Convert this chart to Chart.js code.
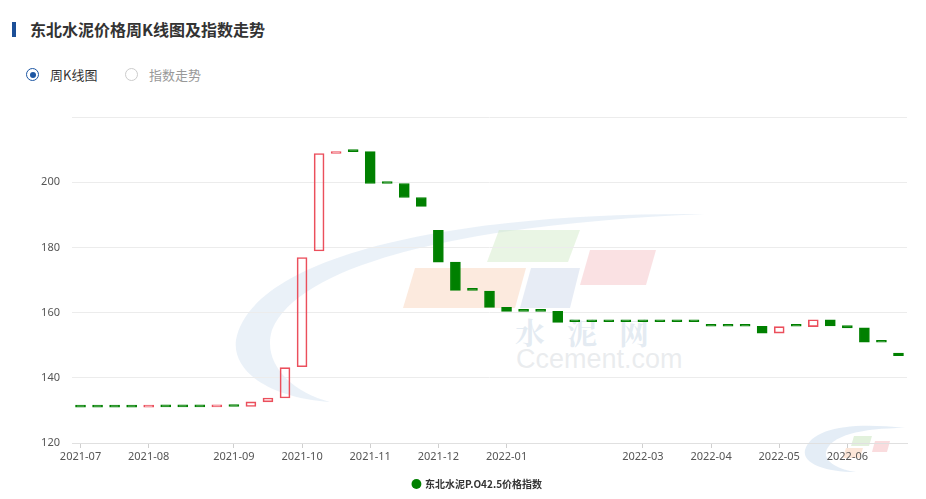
<!DOCTYPE html>
<html>
<head>
<meta charset="utf-8">
<script src="https://cdn.jsdelivr.net/npm/chart.js@4/dist/chart.umd.min.js"></script>
<style>
  html, body { margin: 0; padding: 0; background: #fff; }
  body { width: 926px; height: 499px; position: relative; overflow: hidden;
         font-family: "Noto Sans CJK SC", "Noto Sans", sans-serif; }
  .bar { position: absolute; left: 12px; top: 22px; width: 4px; height: 15px; background: #1c4f97; }
  .title { position: absolute; left: 30px; top: 17px; font-size: 16px; font-weight: bold; color: #333; line-height: 24px; }
  .radio { position: absolute; top: 66px; font-size: 13px; line-height: 17px; }
  .radio .c { position: absolute; left: 0; top: 2px; width: 11px; height: 11px; border-radius: 50%; border: 1px solid #ccc; background: #fff; }
  .radio .c.on { border-color: #1c56a3; }
  .radio .c.on::after { content: ""; position: absolute; left: 2.5px; top: 2.5px; width: 6px; height: 6px; border-radius: 50%; background: #1c56a3; }
  .radio span.t { position: absolute; left: 24px; top: 0; white-space: nowrap; }
  .wm { position: absolute; left: 0; top: 0; }
  #wrap { position: absolute; left: 0; top: 0; width: 926px; height: 499px; }
</style>
</head>
<body>
<div class="bar"></div>
<div class="title">东北水泥价格周K线图及指数走势</div>
<div class="radio" style="left:26px"><div class="c on"></div><span class="t" style="color:#333">周K线图</span></div>
<div class="radio" style="left:125px"><div class="c"></div><span class="t" style="color:#999">指数走势</span></div>

<svg class="wm" width="926" height="499">
  <path d="M 236 340 C 250 262, 430 212, 705 214 C 470 224, 300 262, 272 330 C 262 362, 290 392, 330 402 C 270 398, 232 372, 236 340 Z" fill="rgba(196,214,236,0.35)"/>
  <polygon points="499,230 580,230 568,262 487,262" fill="rgba(206,232,196,0.45)"/>
  <polygon points="415,268 526,268 515,308 403,308" fill="rgba(250,214,190,0.5)"/>
  <polygon points="531,268 580,268 570,308 520,308" fill="rgba(208,218,236,0.5)"/>
  <polygon points="590,250 656,250 646,285 580,285" fill="rgba(246,196,200,0.5)"/>
  <text x="515" y="344" font-size="30" font-weight="bold" font-family="Noto Serif CJK SC, serif" fill="rgba(205,218,232,0.55)" letter-spacing="22">水泥网</text>
  <text x="516" y="368" font-size="27" font-family="Liberation Sans, sans-serif" fill="rgba(220,224,228,0.6)">Ccement.com</text>
  <path d="M 805 450 C 812 428, 850 422, 905 428 C 860 428, 830 436, 826 452 C 824 462, 840 470, 856 472 C 826 472, 802 464, 805 450 Z" fill="rgba(196,214,236,0.45)"/>
  <polygon points="854,436 872,436 869,446 851,446" fill="rgba(206,232,196,0.6)"/>
  <polygon points="846,448 863,448 860,458 843,458" fill="rgba(250,214,190,0.6)"/>
  <polygon points="875,441 890,441 887,452 872,452" fill="rgba(246,196,200,0.6)"/>
</svg>

<div id="wrap"><canvas id="c" width="926" height="499"></canvas></div>

<script>
// Week category tick labels (label only at first week of a month)
const weekLabels = [
  '2021-07','','','',
  '2021-08','','','','',
  '2021-09','','','',
  '2021-10','','','',
  '2021-11','','','',
  '2021-12','','','',
  '2022-01','','','','','','','',
  '2022-03','','','',
  '2022-04','','','',
  '2022-05','','','',
  '2022-06','','',''
];

// Weekly open values
const openValues = [
  131, 131, 131, 131, 131, 131.2, 131.1, 131.1, 131.1, 131.3,
  131.2, 132.6, 133.8, 143.4, 178.9, 208.8, 209.4, 209.4, 199.6, 199.6,
  195.3, 185.2, 175.5, 166.8, 166.6, 161.6, 160.4, 160.4, 160.4, 157.2,
  157.2, 157.2, 157.2, 157.2, 157.2, 157.2, 157.2, 155.8, 155.8, 155.8,
  155.8, 153.7, 155.8, 155.7, 157.8, 156.0, 155.3, 150.9, 147.6
];

// Weekly close values
const closeValues = [
  131, 131, 131, 131, 131.2, 131.1, 131.1, 131.1, 131.3, 131.2,
  132.6, 133.8, 143.1, 176.9, 208.8, 209.3, 209.4, 199.6, 199.6, 195.3,
  192.6, 175.5, 166.8, 166.8, 161.6, 160.4, 160.4, 160.4, 157.0, 157.2,
  157.2, 157.2, 157.2, 157.2, 157.2, 157.2, 157.2, 155.8, 155.8, 155.8,
  153.7, 155.7, 155.8, 157.8, 155.9, 155.3, 150.9, 150.9, 146.8
];

const yTicks = [120, 140, 160, 180, 200, 220];
const seriesName = '东北水泥P.O42.5价格指数';

const UP = '#eb4f5c';
const DOWN = '#008000';
const isUp = i => closeValues[i] > openValues[i];

const legendShift = {
  id: 'legendShift',
  afterLayout(chart) {
    if (chart.legend) { chart.legend.left -= 12; chart.legend.right -= 12; }
  }
};

const ctx = document.getElementById('c').getContext('2d');
new Chart(ctx, {
  type: 'bar',
  data: {
    labels: weekLabels,
    datasets: [{
      label: seriesName,
      data: openValues.map((o, i) => [o, closeValues[i]]),
      backgroundColor: c => isUp(c.dataIndex) ? 'rgba(255,255,255,0)' : DOWN,
      borderColor: c => isUp(c.dataIndex) ? UP : DOWN,
      borderWidth: 1,
      borderSkipped: false,
      barThickness: 10,
      minBarLength: 2
    }]
  },
  plugins: [legendShift],
  options: {
    responsive: false,
    animation: false,
    layout: { padding: { top: 117, right: 19, left: 0, bottom: 0 } },
    plugins: {
      tooltip: { enabled: false },
      legend: {
        position: 'bottom',
        fullSize: false,
        labels: {
          usePointStyle: true,
          pointStyle: 'circle',
          boxWidth: 7,
          boxHeight: 7,
          padding: 11,
          color: '#333',
          font: { size: 10, weight: 'bold', family: "'Noto Sans CJK SC', sans-serif" },
          generateLabels: chart => {
            const items = Chart.defaults.plugins.legend.labels.generateLabels(chart);
            items.forEach(it => { it.fillStyle = DOWN; it.strokeStyle = DOWN; it.lineWidth = 0; });
            return items;
          }
        }
      }
    },
    scales: {
      x: {
        type: 'category',
        afterFit: s => { s.height = 25; },
        grid: {
          display: true,
          drawOnChartArea: false,
          drawTicks: true,
          tickLength: 5,
          offset: false,
          color: c => (weekLabels[c.index] ? '#cfcfcf' : 'rgba(0,0,0,0)')
        },
        border: { display: true, color: '#e0e0e0', width: 1 },
        ticks: {
          autoSkip: false,
          maxRotation: 0,
          minRotation: 0,
          padding: 2,
          color: '#555',
          font: { size: 11, family: "'Noto Sans', sans-serif" },
          callback: (v, i) => weekLabels[i]
        }
      },
      y: {
        min: yTicks[0],
        max: yTicks[yTicks.length - 1],
        afterFit: s => { s.width = 72; },
        afterBuildTicks: s => { s.ticks = yTicks.map(v => ({ value: v })); },
        grid: { color: '#ececec', drawTicks: false },
        border: { display: false },
        ticks: {
          padding: 12,
          color: '#555',
          font: { size: 11, family: "'Noto Sans', sans-serif" },
          callback: v => (v === yTicks[yTicks.length - 1] ? '' : v)
        }
      }
    }
  }
});
</script>
</body>
</html>
